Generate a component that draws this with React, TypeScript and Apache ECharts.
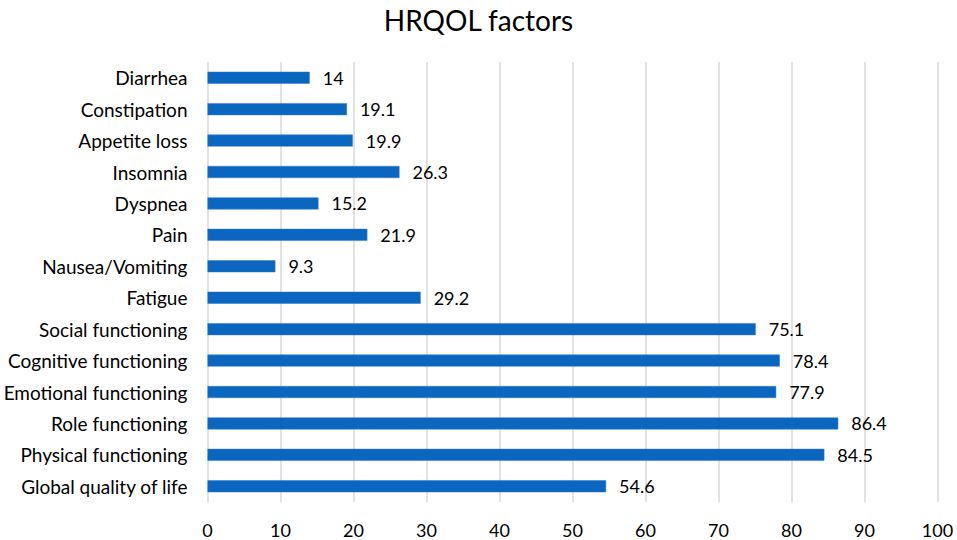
import React, { useEffect, useRef } from "react";
import * as echarts from "echarts";

const categories = [
  "Global quality of life",
  "Physical functioning",
  "Role functioning",
  "Emotional functioning",
  "Cognitive functioning",
  "Social functioning",
  "Fatigue",
  "Nausea/Vomiting",
  "Pain",
  "Dyspnea",
  "Insomnia",
  "Appetite loss",
  "Constipation",
  "Diarrhea",
];
const values = [54.6, 84.5, 86.4, 77.9, 78.4, 75.1, 29.2, 9.3, 21.9, 15.2, 26.3, 19.9, 19.1, 14];
const title = "HRQOL factors";
const FONT = "Lato, 'Open Sans', sans-serif";

export default function App() {
  const ref = useRef<HTMLDivElement>(null);
  useEffect(() => {
    if (!ref.current) return;
    const chart = echarts.init(ref.current, undefined, { renderer: "svg" });
    chart.setOption({
      animation: false,
      backgroundColor: "#fff",
      title: {
        text: title,
        left: "center",
        top: 1,
        textStyle: { fontFamily: FONT, fontSize: 28, fontWeight: "normal", color: "#000" },
      },
      grid: { left: 207.5, right: 19.5, top: 62, bottom: 38 },
      xAxis: {
        type: "value",
        min: 0,
        max: 100,
        interval: 10,
        axisLine: { show: false },
        axisTick: { show: false },
        splitLine: { lineStyle: { color: "#d9d9d9", width: 1.5 } },
        axisLabel: { fontFamily: FONT, fontSize: 18, color: "#000", margin: 19 },
      },
      yAxis: {
        type: "category",
        data: categories,
        axisLine: { show: false },
        axisTick: { show: false },
        axisLabel: { fontFamily: FONT, fontSize: 19, color: "#000", margin: 20 },
      },
      series: [
        {
          type: "bar",
          data: values,
          barWidth: 12,
          itemStyle: { color: "#0b66c0", borderColor: "#2e7bd0", borderWidth: 0.5 },
          label: {
            show: true,
            position: "right",
            distance: 13,
            fontFamily: FONT,
            fontSize: 18,
            color: "#000",
          },
        },
      ],
    });
    return () => chart.dispose();
  }, []);
  return (
    <div
      ref={ref}
      style={{ position: "fixed", left: 0, top: 0, width: 957, height: 540, background: "#fff" }}
    />
  );
}
